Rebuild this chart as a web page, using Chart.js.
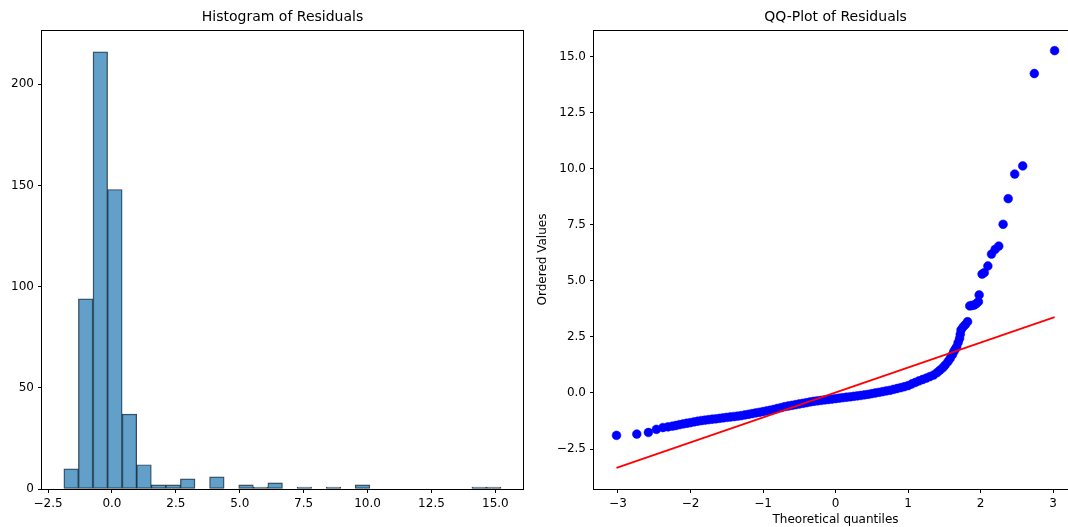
<!DOCTYPE html>
<html>
<head>
<meta charset="utf-8">
<script src="https://cdn.jsdelivr.net/npm/chart.js@4.4.1/dist/chart.umd.min.js"></script>
<style>
  html, body { margin: 0; background: #fff; overflow: hidden; width: 1068px; height: 527px; }
  canvas { position: absolute; top: 0; }
  #js--hist { left: 0; }
  #js--qq { left: 534px; }
</style>
</head>
<body>
<canvas id="js--hist" width="534" height="527"></canvas>
<!-- the right axes runs a little past the window edge, as in the original figure -->
<canvas id="js--qq" width="548" height="527"></canvas>
<script>
// histogram: bin centres and counts
const binCenters = [-1.595, -1.025, -0.455, 0.115, 0.685, 1.255, 1.825, 2.395, 2.965, 3.535,
    4.105, 4.675, 5.245, 5.815, 6.385, 6.955, 7.525, 8.095, 8.665, 9.235,
    9.805, 10.375, 10.945, 11.515, 12.085, 12.655, 13.225, 13.795, 14.365, 14.935];
const binCounts = [10, 94, 216, 148, 37, 12, 2, 2, 5, 0,
    6, 0, 2, 1, 3, 0, 1, 0, 1, 0,
    2, 0, 0, 0, 0, 0, 0, 0, 1, 1];
const histXTicks = [-2.5, 0, 2.5, 5, 7.5, 10, 12.5, 15];
const histYTicks = [0, 50, 100, 150, 200];

// qq-plot: theoretical quantiles vs ordered residuals
const qqX = [-3.02, -2.74, -2.58, -2.47, -2.38, -2.31, -2.25, -2.20, -2.15, -2.10,
    -2.05, -2.00, -1.95, -1.90, -1.85, -1.80, -1.75, -1.70, -1.65, -1.60,
    -1.55, -1.50, -1.45, -1.40, -1.35, -1.30, -1.25, -1.20, -1.15, -1.10,
    -1.05, -1.00, -0.95, -0.90, -0.85, -0.80, -0.75, -0.70, -0.65, -0.60,
    -0.55, -0.50, -0.45, -0.40, -0.35, -0.30, -0.25, -0.20, -0.15, -0.10,
    -0.05, 0.00, 0.05, 0.10, 0.15, 0.20, 0.25, 0.30, 0.35, 0.40,
    0.45, 0.50, 0.55, 0.60, 0.65, 0.70, 0.75, 0.80, 0.85, 0.90,
    0.95, 1.00, 1.05, 1.10, 1.15, 1.20, 1.25, 1.30, 1.35, 1.40,
    1.44, 1.48, 1.51, 1.55, 1.58, 1.61, 1.63, 1.65, 1.67, 1.69,
    1.71, 1.72, 1.73, 1.76, 1.79, 1.82, 1.85, 1.88, 1.91, 1.94,
    1.97, 1.98, 2.02, 2.05, 2.10, 2.15, 2.20, 2.25, 2.31, 2.38,
    2.47, 2.58, 2.74, 3.02];
const qqY = [-1.89, -1.83, -1.76, -1.62, -1.54, -1.51, -1.48, -1.45, -1.41, -1.38,
    -1.35, -1.32, -1.29, -1.26, -1.23, -1.21, -1.19, -1.17, -1.15, -1.13,
    -1.11, -1.09, -1.07, -1.05, -1.03, -1.01, -0.98, -0.95, -0.92, -0.89,
    -0.86, -0.83, -0.80, -0.77, -0.73, -0.69, -0.65, -0.61, -0.58, -0.55,
    -0.52, -0.49, -0.46, -0.43, -0.40, -0.37, -0.35, -0.33, -0.31, -0.29,
    -0.27, -0.25, -0.23, -0.21, -0.19, -0.17, -0.15, -0.13, -0.11, -0.08,
    -0.06, -0.03, 0.00, 0.03, 0.06, 0.09, 0.12, 0.16, 0.20, 0.24,
    0.28, 0.33, 0.40, 0.47, 0.54, 0.60, 0.66, 0.73, 0.80, 0.91,
    1.02, 1.13, 1.24, 1.40, 1.54, 1.70, 1.84, 1.95, 2.06, 2.25,
    2.43, 2.62, 2.81, 2.95, 3.05, 3.18, 3.88, 3.90, 3.92, 3.98,
    4.07, 4.37, 5.30, 5.36, 5.66, 6.19, 6.40, 6.55, 7.52, 8.66,
    9.76, 10.12, 14.24, 15.26];
const fitX = [-3.02, 3.02];
const fitY = [-3.34, 3.38];
const qqXTicks = [-3, -2, -1, 0, 1, 2, 3];
const qqYTicks = [-2.5, 0, 2.5, 5, 7.5, 10, 12.5, 15];

Chart.defaults.font.family = "'DejaVu Sans', sans-serif";
Chart.defaults.font.size = 12;
Chart.defaults.color = "#000";

function minus(text) {
    return String(text).replace("-", "\u2212");
}

// matplotlib draws a box round each axes
const framePlugin = {
    id: "frame",
    afterDatasetsDraw(chart) {
        const a = chart.chartArea;
        const ctx = chart.ctx;
        ctx.save();
        ctx.strokeStyle = "#000";
        ctx.lineWidth = 1;
        ctx.strokeRect(a.left - 0.5, a.top + 0.5, a.right - a.left + 1, a.bottom - a.top);
        ctx.restore();
    }
};

function tickAxis(ticks, fmt, size) {
    return {
        border: { display: false },
        grid: { offset: false, drawOnChartArea: false, drawTicks: true, tickLength: 4, tickColor: "#000", tickWidth: 1 },
        ticks: { padding: 4, color: "#000", autoSkip: false, maxRotation: 0, callback: fmt },
        afterBuildTicks: function (scale) {
            scale.ticks = ticks.map(function (v) { return { value: v }; });
        },
        afterFit: function (scale) {
            if (scale.isHorizontal()) {
                scale.height = size;
                scale.paddingLeft = 0;
                scale.paddingRight = 0;
            } else {
                scale.width = size;
                scale.paddingTop = 0;
                scale.paddingBottom = 0;
            }
        }
    };
}

function titleOpts(text) {
    return {
        display: true,
        text: text,
        fullSize: false,
        color: "#000",
        font: { size: 14, weight: "normal" },
        padding: { top: 9, bottom: 4.2 }
    };
}

// histogram
const histX = tickAxis(histXTicks, function (v) { return minus(v.toFixed(1)); }, 38);
histX.type = "linear";
histX.min = -2.735;
histX.max = 16.08;
histX.offset = false;
const histY = tickAxis(histYTicks, function (v) { return String(v); }, 42);
histY.min = 0;
histY.max = 226.8;

new Chart(document.getElementById("js--hist"), {
    type: "bar",
    data: {
        datasets: [{
            data: binCenters.map(function (c, i) { return { x: c, y: binCounts[i] }; }),
            backgroundColor: "rgba(31,119,180,0.7)",
            borderColor: "rgba(0,0,0,0.75)",
            borderWidth: 0.8,
            borderSkipped: false,
            barPercentage: 1,
            categoryPercentage: 1
        }]
    },
    options: {
        responsive: false,
        animation: false,
        devicePixelRatio: 1,
        layout: { padding: { left: 0, right: 11, top: 0, bottom: 0 } },
        plugins: {
            legend: { display: false },
            tooltip: { enabled: false },
            title: titleOpts("Histogram of Residuals")
        },
        scales: { x: histX, y: histY }
    },
    plugins: [framePlugin]
});

// qq plot
const qqXAxis = tickAxis(qqXTicks, function (v) { return minus(v); }, 38);
qqXAxis.type = "linear";
qqXAxis.min = -3.33;
qqXAxis.max = 3.33;
qqXAxis.title = { display: true, text: "Theoretical quantiles", padding: { top: 0, bottom: 0 }, font: { size: 12 } };
const qqYAxis = tickAxis(qqYTicks, function (v) { return minus(v.toFixed(1)); }, 60);
qqYAxis.min = -4.28;
qqYAxis.max = 16.18;
qqYAxis.title = { display: true, text: "Ordered Values", padding: { top: 2, bottom: 0 }, font: { size: 12 } };

new Chart(document.getElementById("js--qq"), {
    type: "scatter",
    data: {
        datasets: [
            {
                data: qqX.map(function (x, i) { return { x: x, y: qqY[i] }; }),
                backgroundColor: "#0000ff",
                borderColor: "#0000ff",
                borderWidth: 0.5,
                pointRadius: 4.4,
                order: 1
            },
            {
                type: "line",
                data: fitX.map(function (x, i) { return { x: x, y: fitY[i] }; }),
                borderColor: "#ff0000",
                borderWidth: 1.7,
                pointRadius: 0,
                showLine: true,
                fill: false,
                order: 0
            }
        ]
    },
    options: {
        responsive: false,
        animation: false,
        devicePixelRatio: 1,
        layout: { padding: { left: 0, right: 0, top: 0, bottom: 0 } },
        plugins: {
            legend: { display: false },
            tooltip: { enabled: false },
            title: titleOpts("QQ-Plot of Residuals")
        },
        scales: { x: qqXAxis, y: qqYAxis }
    },
    plugins: [framePlugin]
});
</script>
</body>
</html>
